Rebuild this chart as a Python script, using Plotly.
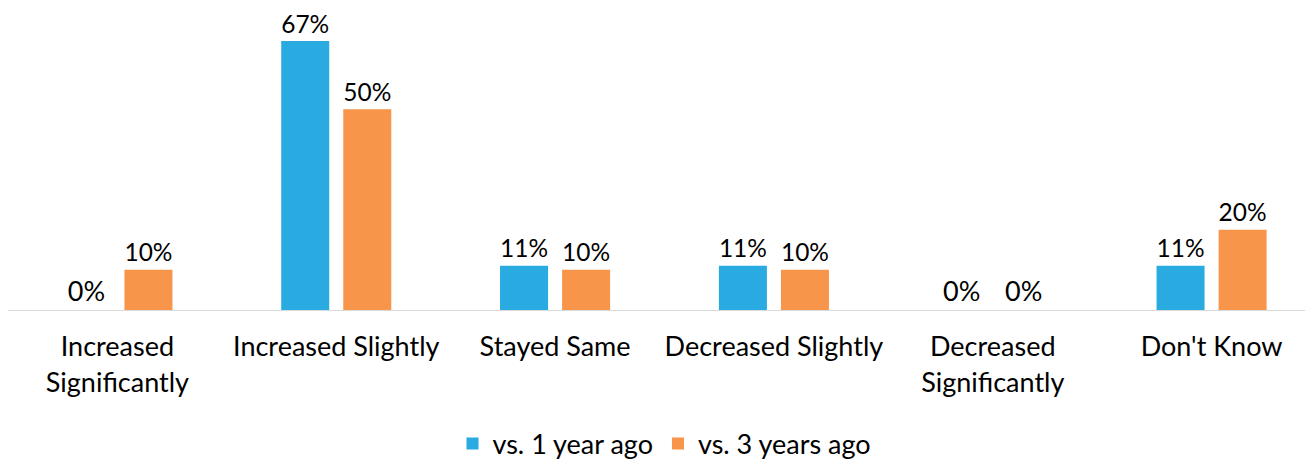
import plotly.graph_objects as go

categories = ['Increased<br>Significantly', 'Increased Slightly', 'Stayed Same',
              'Decreased Slightly', 'Decreased<br>Significantly', "Don't Know"]
one_year = [0, 67, 11, 11, 0, 11]
three_years = [10, 50, 10, 10, 0, 20]

BLUE = '#29ABE2'
ORANGE = '#F7964A'
FONT = 'Lato'
SIZE = 27

fig = go.Figure()
fig.add_trace(go.Bar(name='vs. 1 year ago', x=categories, y=one_year,
                     marker=dict(color=BLUE, line=dict(width=0)),
                     text=[f'{v}%' for v in one_year], textposition='outside',
                     cliponaxis=False))
fig.add_trace(go.Bar(name='vs. 3 years ago', x=categories, y=three_years,
                     marker=dict(color=ORANGE, line=dict(width=0)),
                     text=[f'{v}%' for v in three_years], textposition='outside',
                     cliponaxis=False))

fig.update_traces(textfont=dict(family=FONT, size=SIZE, color='#000000'))
# the page body adds an 8px offset, so margins are trimmed to match
fig.update_layout(
    width=1313, height=460,
    margin=dict(l=0, r=0, t=1, b=158, autoexpand=False),
    barmode='group', bargap=0.433, bargroupgap=0.226,
    plot_bgcolor='white', paper_bgcolor='white',
    font=dict(family=FONT, size=SIZE, color='#000000'),
    showlegend=True,
    legend=dict(orientation='h', x=0.5, xanchor='center', y=-0.445, yanchor='middle',
                font=dict(family=FONT, size=SIZE), itemwidth=30, traceorder='normal'),
    xaxis=dict(showline=True, linecolor='#D9D9D9', linewidth=1, ticks='',
               tickfont=dict(family=FONT, size=SIZE), showgrid=False,
               ticklabelstandoff=13),
    yaxis=dict(range=[0, 75], visible=False, showgrid=False, zeroline=False),
)

fig.write_html('out.html')
